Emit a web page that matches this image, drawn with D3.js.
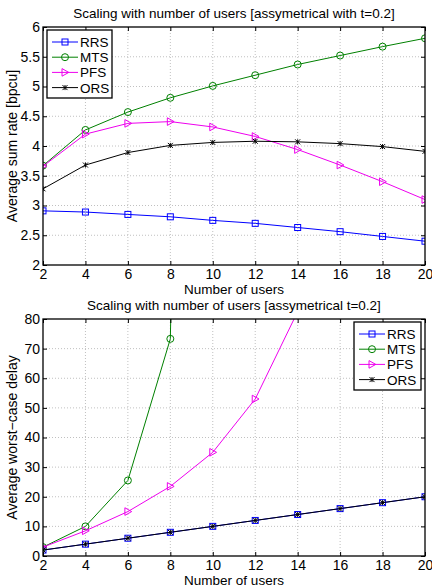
<!DOCTYPE html>
<html>
<head>
<meta charset="utf-8">
<script src="https://cdn.jsdelivr.net/npm/d3@7"></script>
<style>
  body { margin: 0; background: white; }
  svg { display: block; }
  text { font-family: "Liberation Sans", Arial, sans-serif; fill: black; }
</style>
</head>
<body>
<svg id="chart" width="432" height="588"></svg>
<script>
// data
let users = [2, 4, 6, 8, 10, 12, 14, 16, 18, 20]

let rateRRS = [2.91, 2.89, 2.85, 2.81, 2.75, 2.70, 2.63, 2.56, 2.48, 2.40]
let rateMTS = [3.67, 4.27, 4.57, 4.81, 5.01, 5.19, 5.37, 5.52, 5.67, 5.81]
let ratePFS = [3.66, 4.20, 4.38, 4.41, 4.32, 4.16, 3.94, 3.68, 3.40, 3.10]
let rateORS = [3.28, 3.68, 3.89, 4.01, 4.06, 4.08, 4.07, 4.04, 3.99, 3.91]

let delayRRS = [2, 4, 6, 8, 10, 12, 14, 16, 18, 20]
let delayMTS = [3, 10, 25.5, 73.3, 780]
let delayPFS = [3, 8.5, 15, 23.5, 35, 53, 82.5]
let delayORS = [2, 4, 6, 8, 10, 12, 14, 16, 18, 20]

let xTicks = [2, 4, 6, 8, 10, 12, 14, 16, 18, 20]
let rateTicks = [2, 2.5, 3, 3.5, 4, 4.5, 5, 5.5, 6]
let delayTicks = [0, 10, 20, 30, 40, 50, 60, 70, 80]

let names = ["RRS", "MTS", "PFS", "ORS"]
let colors = ["#0000ff", "#008000", "#ee00ee", "#000000"]
let symbols = ["square", "circle", "triangle", "star"]

let svg = d3.select("#chart")

function drawMarker(g, type, x, y, color){
    if(type === "square"){
        g.append("rect").attr("x", x - 3).attr("y", y - 3).attr("width", 6).attr("height", 6)
            .attr("fill", "none").attr("stroke", color).attr("stroke-width", 1)
    } else if(type === "circle"){
        g.append("circle").attr("cx", x).attr("cy", y).attr("r", 3.5)
            .attr("fill", "none").attr("stroke", color).attr("stroke-width", 1)
    } else if(type === "triangle"){
        g.append("path").attr("d", `M${x - 3},${y - 3.8}L${x + 3.8},${y}L${x - 3},${y + 3.8}Z`)
            .attr("fill", "none").attr("stroke", color).attr("stroke-width", 1)
    } else {
        let s = 2.5
        g.append("path")
            .attr("d", `M${x - s},${y - s}L${x + s},${y + s}M${x - s},${y + s}L${x + s},${y - s}M${x},${y - s}L${x},${y + s}`)
            .attr("stroke", color).attr("stroke-width", 1)
    }
}

let Panel = function(top, bottom, yDomain, yTicks, yFormat, series, title, ylabel, legendPos, clipId){
    let view = this
    view.left = 43
    view.right = 425
    view.top = top
    view.bottom = bottom

    view.x = d3.scaleLinear().domain([2, 20]).range([view.left, view.right])
    view.y = d3.scaleLinear().domain(yDomain).range([view.bottom, view.top])

    let g = svg.append("g")

    // dotted grid
    g.selectAll(".gx").data(xTicks.slice(1, -1)).enter().append("line")
        .attr("x1", d => view.x(d)).attr("x2", d => view.x(d))
        .attr("y1", view.top).attr("y2", view.bottom)
        .attr("stroke", "#b0b0b0").attr("stroke-width", 0.8).attr("stroke-dasharray", "1,2")
    g.selectAll(".gy").data(yTicks.slice(1, -1)).enter().append("line")
        .attr("x1", view.left).attr("x2", view.right)
        .attr("y1", d => view.y(d)).attr("y2", d => view.y(d))
        .attr("stroke", "#b0b0b0").attr("stroke-width", 0.8).attr("stroke-dasharray", "1,2")

    // series, clipped to the axes box
    svg.append("clipPath").attr("id", clipId).append("rect")
        .attr("x", view.left).attr("y", view.top)
        .attr("width", view.right - view.left).attr("height", view.bottom - view.top)
    let plot = g.append("g").attr("clip-path", `url(#${clipId})`)
    let line = d3.line().x(d => view.x(d[0])).y(d => view.y(d[1]))
    series.forEach((vals, i) => {
        let pts = vals.map((v, j) => [users[j], v])
        plot.append("path").datum(pts).attr("d", line)
            .attr("fill", "none").attr("stroke", colors[i]).attr("stroke-width", 1)
        pts.forEach(p => drawMarker(plot, symbols[i], view.x(p[0]), view.y(p[1]), colors[i]))
    })

    // axes box with inward ticks
    let xAxis = d3.axisBottom(view.x).tickValues(xTicks).tickSize(-4).tickPadding(0)
    let yAxis = d3.axisLeft(view.y).tickValues(yTicks).tickSize(-4).tickPadding(3).tickFormat(yFormat)
    let xa = g.append("g").attr("transform", `translate(0,${view.bottom})`).call(xAxis)
    g.append("g").attr("transform", `translate(${view.left},0)`).call(yAxis)
    g.append("g").attr("transform", `translate(0,${view.top})`)
        .call(d3.axisTop(view.x).tickValues(xTicks).tickSize(-4).tickFormat(""))
    g.append("g").attr("transform", `translate(${view.right},0)`)
        .call(d3.axisRight(view.y).tickValues(yTicks).tickSize(-4).tickFormat(""))
    g.selectAll(".domain").attr("stroke", "none")
    g.selectAll(".tick line").attr("stroke", "black").attr("stroke-width", 1)
    g.selectAll(".tick text").attr("font-size", 14).attr("fill", "black")
        .attr("font-family", "Liberation Sans, Arial, sans-serif")
    xa.selectAll(".tick text").attr("y", 13.5).attr("dy", 0)

    g.append("rect").attr("x", view.left).attr("y", view.top)
        .attr("width", view.right - view.left).attr("height", view.bottom - view.top)
        .attr("fill", "none").attr("stroke", "black").attr("stroke-width", 1.3)

    // labels
    g.append("text").attr("x", (view.left + view.right) / 2).attr("y", view.top - 9)
        .attr("text-anchor", "middle").attr("font-size", 13.5).text(title)
    g.append("text").attr("x", (view.left + view.right) / 2).attr("y", view.bottom + 29)
        .attr("text-anchor", "middle").attr("font-size", 13.5).text("Number of users")
    g.append("text")
        .attr("transform", `translate(17,${(view.top + view.bottom) / 2}) rotate(-90)`)
        .attr("text-anchor", "middle").attr("font-size", 14).text(ylabel)

    // legend
    let lg = g.append("g").attr("transform", `translate(${legendPos[0]},${legendPos[1]})`)
    lg.append("rect").attr("x", 0).attr("y", 0).attr("width", legendPos[2]).attr("height", 68)
        .attr("fill", "white").attr("stroke", "black").attr("stroke-width", 1.3)
    names.forEach((n, i) => {
        let ly = 12 + i * 15.2
        lg.append("line").attr("x1", 5).attr("x2", 31).attr("y1", ly).attr("y2", ly)
            .attr("stroke", colors[i]).attr("stroke-width", 1)
        drawMarker(lg, symbols[i], 18, ly, colors[i])
        lg.append("text").attr("x", 33).attr("y", ly + 5).attr("font-size", 13.5).text(n)
    })
}

new Panel(27, 265, [2, 6], rateTicks, d3.format("~g"),
    [rateRRS, rateMTS, ratePFS, rateORS],
    "Scaling with number of users [assymetrical with t=0.2]",
    "Average sum rate [bpcu]", [47, 30, 65], "clipTop")

new Panel(319, 556, [0, 80], delayTicks, d3.format("d"),
    [delayRRS, delayMTS, delayPFS, delayORS],
    "Scaling with number of users [assymetrical t=0.2]",
    "Average worst\u2212case delay", [354, 322, 67], "clipBottom")
</script>
</body>
</html>
